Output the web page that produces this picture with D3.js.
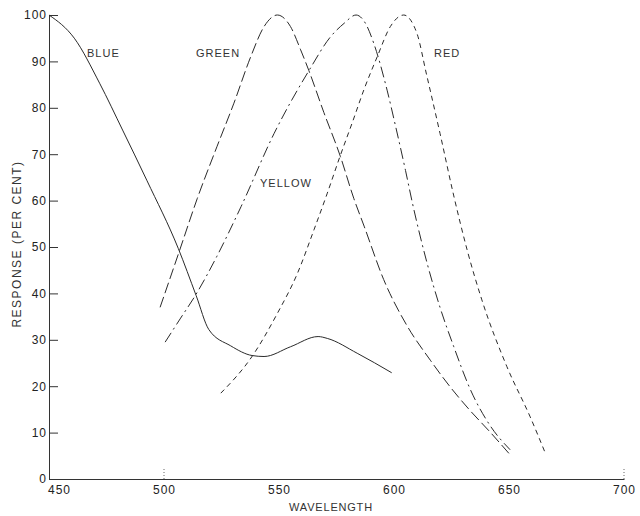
<!DOCTYPE html>
<html>
<head>
<meta charset="utf-8">
<script src="https://cdn.jsdelivr.net/npm/d3@7"></script>
<style>
  body { margin: 0; background: #fff; }
  svg { display: block; font-family: "Liberation Sans", Arial, sans-serif; }
  .axis path, .axis line { stroke: #333; }
  .axis text { font-size: 12px; letter-spacing: 1px; fill: #222; }
  .curve { fill: none; stroke: #2a2a2a; stroke-width: 1; }
  .label { font-size: 11px; letter-spacing: 1px; fill: #333; }
</style>
</head>
<body>
<div id="chart"></div>
<script>
// response curves, [wavelength, per cent]
var blue = [
  [450, 100], [461, 95], [472, 85.3], [482, 75.2], [492.5, 64.4],
  [506.2, 49.7], [514, 39.5], [519.5, 32.2], [529, 28.7], [538.4, 26.6],
  [543.5, 26.4], [555, 28.5], [567, 30.7], [571, 30.3], [584, 27.1],
  [599, 22.9]
];
var green = [
  [498.3, 37], [506.6, 49], [514.5, 60.5], [523, 71.6], [530.4, 81],
  [537.7, 91], [543.5, 97.5], [549.3, 100], [555, 97.5], [559.4, 92.5],
  [563, 88], [569.5, 79], [576.7, 69.5], [582.5, 60.5], [587, 54.5],
  [595.5, 43], [605.7, 33], [615.8, 25.6], [624.5, 19.8], [633, 14.8],
  [642, 10], [650, 5.5]
];
var yellow = [
  [500.5, 29.5], [507, 34.5], [513.8, 39.7], [523, 48], [533.5, 58.7],
  [547.9, 74.5], [563, 88], [572.4, 95.3], [578.3, 98.2], [583.5, 100],
  [587.6, 98.2], [591.2, 93.9], [597, 83.8], [600.7, 76], [605, 66.5],
  [608, 59.5], [614.4, 46.5], [620, 37], [626, 28.5], [633, 19.5],
  [641.8, 11.5], [650.5, 6.3]
];
var red = [
  [524.7, 18.5], [538.4, 26.5], [549.3, 35.7], [558, 44.3], [565.2, 53.7],
  [571, 61.6], [576.5, 69.5], [582, 77], [587, 84], [592.7, 91],
  [598.4, 97.5], [604.2, 100], [610, 96], [614, 87.5], [620, 74.5],
  [626, 61], [632, 49], [638.2, 38.6], [649.1, 24.2], [659.2, 13.4],
  [666.1, 5.2]
];

var xTicks = [450, 500, 550, 600, 650, 700];
var yTicks = [0, 10, 20, 30, 40, 50, 60, 70, 80, 90, 100];
var xMarked = [500, 700];

var width = 640, height = 516;

var svg = d3.select('#chart')
  .append('svg')
  .attr('width', width)
  .attr('height', height);

var x = d3.scaleLinear().domain([450, 700]).range([49, 624]);
var y = d3.scaleLinear().domain([0, 100]).range([479, 15]);

// axes
svg.append('g')
  .attr('class', 'axis')
  .attr('transform', 'translate(' + x(450) + ',0)')
  .call(d3.axisLeft(y).tickValues(yTicks).tickSizeInner(-9).tickSizeOuter(0).tickPadding(2));

var xAxis = svg.append('g')
  .attr('class', 'axis')
  .attr('transform', 'translate(0,' + y(0) + ')')
  .call(d3.axisBottom(x).tickValues(xTicks).tickSizeInner(0).tickSizeOuter(0).tickPadding(6));

xAxis.selectAll('.tick text')
  .attr('dx', function(d) { return d === 450 ? 10 : 0; });

// faint dotted marks that show on the wavelength axis
svg.selectAll('line.mark')
  .data(xMarked)
  .enter().append('line')
  .attr('class', 'mark')
  .attr('x1', function(d) { return x(d); })
  .attr('x2', function(d) { return x(d); })
  .attr('y1', y(0))
  .attr('y2', y(0) - 11)
  .attr('stroke', '#666')
  .attr('stroke-dasharray', '1,2');

// axis titles
svg.append('text')
  .attr('x', 331)
  .attr('y', 511)
  .attr('text-anchor', 'middle')
  .attr('class', 'label')
  .style('letter-spacing', '0.8px')
  .text('WAVELENGTH');

svg.append('text')
  .attr('transform', 'translate(21,244) rotate(-90)')
  .attr('text-anchor', 'middle')
  .attr('class', 'label')
  .style('font-size', '12px')
  .style('letter-spacing', '1.5px')
  .text('RESPONSE (PER CENT)');

// curves
var line = d3.line()
  .x(function(d) { return x(d[0]); })
  .y(function(d) { return y(d[1]); })
  .curve(d3.curveMonotoneX);

var series = [
  { name: 'BLUE', data: blue, dash: null, lx: 87, ly: 57 },
  { name: 'GREEN', data: green, dash: '11,4', lx: 196, ly: 57 },
  { name: 'YELLOW', data: yellow, dash: '11,4,2,4', lx: 260, ly: 187 },
  { name: 'RED', data: red, dash: '5,4', lx: 434, ly: 57 }
];

svg.selectAll('path.curve')
  .data(series)
  .enter().append('path')
  .attr('class', 'curve')
  .attr('d', function(d) { return line(d.data); })
  .attr('stroke-dasharray', function(d) { return d.dash; });

svg.selectAll('text.series')
  .data(series)
  .enter().append('text')
  .attr('class', 'label series')
  .attr('x', function(d) { return d.lx; })
  .attr('y', function(d) { return d.ly; })
  .text(function(d) { return d.name; });
</script>
</body>
</html>
